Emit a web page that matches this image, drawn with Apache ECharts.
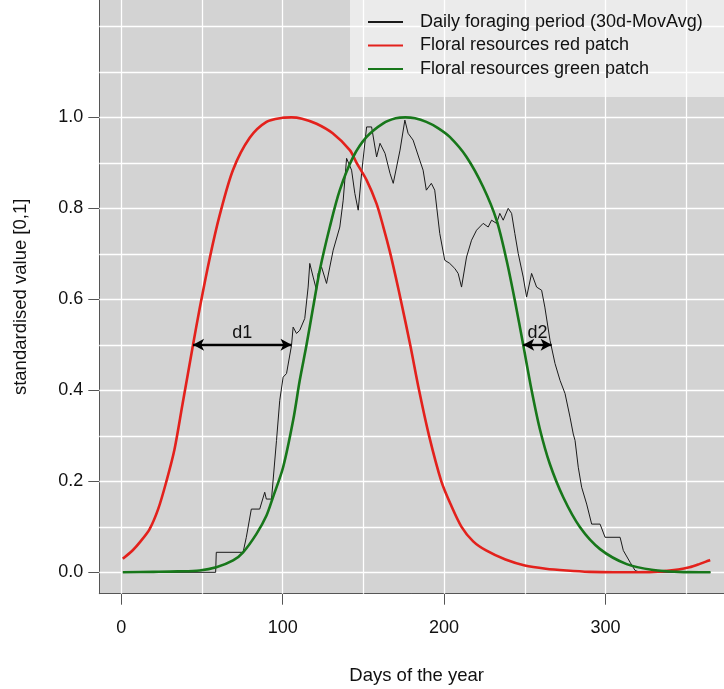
<!DOCTYPE html>
<html>
<head>
<meta charset="utf-8">
<script src="https://cdn.jsdelivr.net/npm/echarts@6/dist/echarts.min.js"></script>
<style>html,body{margin:0;padding:0;background:#fff}#c{width:724px;height:689px}</style>
</head>
<body>
<div id="c"></div>
<script>
// ---- data ----
const redDays = [1,7,12,17.6,23,28,33,38,44.5,48.6,54.8,61,69.3,79.6,90,100,105.5,112,121,131,141.6,145.8,152,158.2,162.3,166.4,170,173.7,179,184.5,190.7,198.3,204,210.8,218,226,238,250,263,276,290,305,320,335,345,352,358,364.8];
const redVals = [0.03,0.048,0.068,0.095,0.14,0.2,0.27,0.37,0.5,0.58,0.69,0.785,0.885,0.955,0.99,0.999,1.0,0.997,0.986,0.965,0.928,0.9,0.862,0.81,0.76,0.705,0.65,0.59,0.5,0.4,0.3,0.2,0.15,0.1,0.068,0.048,0.028,0.015,0.008,0.004,0.001,0.0,0.0,0.002,0.006,0.011,0.018,0.027];

const greenDays = [1,20,35,48.6,58.9,69.3,75.5,83.7,90,94,100.3,106.5,110.6,114.8,118.9,123,129.2,135.4,143.7,152,162.3,170,176,182,189,196,203.5,213.9,224.2,232.5,238.7,243.8,249,254.2,259.3,265.5,273.8,284.2,296.6,313.1,329.6,345,365];
const greenVals = [0.0,0.001,0.002,0.004,0.011,0.026,0.044,0.084,0.125,0.165,0.231,0.334,0.422,0.5,0.583,0.664,0.759,0.84,0.913,0.957,0.987,0.998,1.0,0.998,0.99,0.977,0.957,0.913,0.847,0.774,0.686,0.598,0.5,0.4,0.315,0.238,0.165,0.099,0.051,0.018,0.005,0.001,0.0];

const blackDays = [1,58.5,58.9,75.5,77.5,80.6,85.8,88.9,89.9,93.1,96.2,98.2,100.3,102.4,105.5,106.5,108.6,110.6,113.7,115.8,116.8,118.9,121,122,124.1,127.2,129.2,131.3,135.4,137.5,139.6,142.7,144.7,146.8,148.9,152,155.1,158.2,160.3,163.4,166.5,168.5,172.7,175.7,177.7,180.8,184.9,187,189,192.1,194.2,197.3,200.4,203.5,206.6,208.7,210.8,213.9,217,220.1,224.2,227.3,229.4,232.5,234.5,236.6,239.7,241.8,243.8,245.9,249,251.1,254.2,257.3,260.4,262.4,265.6,268.7,271.8,274.9,278,280,281.1,283.1,285.2,288.3,291.4,296.6,299.7,309,311,315.2,318.3,321.4,365];
const blackVals = [0,0,0.044,0.044,0.077,0.139,0.139,0.176,0.161,0.161,0.29,0.378,0.429,0.437,0.499,0.539,0.525,0.532,0.558,0.627,0.679,0.649,0.62,0.657,0.671,0.635,0.671,0.708,0.759,0.818,0.91,0.884,0.833,0.796,0.877,0.979,0.979,0.913,0.943,0.921,0.877,0.855,0.928,0.994,0.965,0.95,0.906,0.884,0.84,0.855,0.84,0.745,0.686,0.679,0.668,0.657,0.627,0.693,0.73,0.752,0.767,0.759,0.774,0.767,0.789,0.774,0.8,0.789,0.745,0.701,0.649,0.605,0.657,0.627,0.62,0.583,0.51,0.459,0.422,0.393,0.341,0.304,0.29,0.231,0.187,0.15,0.106,0.106,0.077,0.077,0.048,0.022,0.004,0,0];

const d1Range = [44.5, 105.5];
const d2Range = [249, 266.6];
const arrowLevel = 0.5;

const xTicks = [0,100,200,300];
const yTicks = [0,0.2,0.4,0.6,0.8,1.0];
const xGrid = [0,50,100,150,200,250,300,350];
const yGrid = [0,0.1,0.2,0.3,0.4,0.5,0.6,0.7,0.8,0.9,1.0,1.1,1.2];

const names = ['Daily foraging period (30d-MovAvg)','Floral resources red patch','Floral resources green patch'];

const zip = (a,b) => a.map((v,i)=>[v,b[i]]);
const FONT = "'Liberation Sans', Arial, sans-serif";

const chart = echarts.init(document.getElementById('c'), null, {renderer:'canvas'});
chart.setOption({
  animation:false,
  backgroundColor:'#ffffff',
  textStyle:{fontFamily:FONT},
  grid:{left:99.3, right:-10, top:0, bottom:95.3, show:true, backgroundColor:'#d3d3d3', borderWidth:0, containLabel:false, outerBoundsMode:'none'},
  legend:{
    data:names, orient:'vertical', left:350, top:0,
    backgroundColor:'rgba(255,255,255,0.55)',
    padding:[12,40,18,17], itemWidth:35, itemHeight:14, itemGap:3.5,
    itemStyle:{opacity:0},
    textStyle:{fontSize:18, color:'#111', fontFamily:FONT, padding:[0,0,0,12], lineHeight:20}
  },
  xAxis:{
    type:'value', min:-13.56, max:379.56,
    name:'Days of the year', nameLocation:'middle', nameGap:73,
    nameTextStyle:{fontSize:18.5, color:'#111', fontFamily:FONT},
    axisLine:{show:true, onZero:false, lineStyle:{color:'#555', width:1}},
    axisTick:{show:true, length:11, customValues:xTicks, lineStyle:{color:'#555'}},
    axisLabel:{customValues:xTicks, fontSize:18, color:'#111', margin:25, fontFamily:FONT},
    splitLine:{show:false}
  },
  yAxis:{
    type:'value', min:-0.047, max:1.258,
    name:'standardised value [0,1]', nameLocation:'middle', nameGap:69,
    nameTextStyle:{fontSize:18.5, color:'#111', fontFamily:FONT},
    axisLine:{show:true, onZero:false, lineStyle:{color:'#555', width:1}},
    axisTick:{show:true, length:11, customValues:yTicks, lineStyle:{color:'#555'}},
    axisLabel:{customValues:yTicks, fontSize:18, color:'#111', margin:16, fontFamily:FONT, formatter:v=>v.toFixed(1)},
    splitLine:{show:false}
  },
  series:[
    {
      type:'line', data:[], z:1, silent:true,
      markLine:{
        silent:true, symbol:'none', z:1, animation:false,
        label:{show:false},
        lineStyle:{color:'#ffffff', width:1.3, type:'solid'},
        emphasis:{disabled:true},
        data:[...xGrid.map(v=>({xAxis:v})), ...yGrid.map(v=>({yAxis:v}))]
      }
    },
    {
      name:names[0], type:'line', data:zip(blackDays,blackVals), symbol:'none', z:3,
      lineStyle:{color:'#1a1a1a', width:1}, itemStyle:{color:'#1a1a1a'}
    },
    {
      name:names[1], type:'line', data:zip(redDays,redVals), symbol:'none', smooth:0.3, z:4,
      lineStyle:{color:'#e3211c', width:2.6}, itemStyle:{color:'#e3211c'}
    },
    {
      name:names[2], type:'line', data:zip(greenDays,greenVals), symbol:'none', smooth:0.3, z:5,
      lineStyle:{color:'#17771a', width:2.6}, itemStyle:{color:'#17771a'}
    },
    {
      type:'line', data:[], z:6, silent:true,
      markLine:{
        silent:true, z:6, animation:false,
        symbol:['arrow','arrow'], symbolSize:[9,11],
        lineStyle:{color:'#000', width:2.4, type:'solid'},
        label:{show:true, position:'insideMiddleTop', distance:3, fontSize:18, color:'#111', fontFamily:FONT},
        emphasis:{disabled:true},
        data:[
          [{coord:[d1Range[0],arrowLevel], label:{formatter:'d1'}},{coord:[d1Range[1],arrowLevel]}],
          [{coord:[d2Range[0],arrowLevel], label:{formatter:'d2'}},{coord:[d2Range[1],arrowLevel]}]
        ]
      }
    }
  ]
});
</script>
</body>
</html>
